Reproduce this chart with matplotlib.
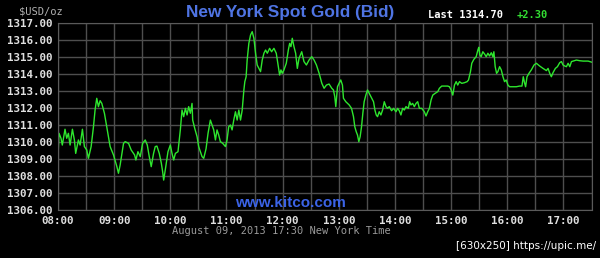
import matplotlib
matplotlib.use("Agg")
import matplotlib.pyplot as plt
import numpy as np

# minutes after 08:00 (New York time) and bid price
minutes = [
    0, 1.1, 3.2, 4.6, 7.5, 9.3, 11.1, 12.9, 15.4, 17.5, 18.9, 21.8, 23.6, 26.1, 28.2,
    30.7, 32.5, 35.4, 37.9, 39.6, 41.4, 43.2, 45.0, 46.8, 49.6, 52.1, 55.7, 59.3,
    62.9, 64.6, 66.4, 70.0, 71.8, 75.4, 78.2, 81.8, 83.2, 85.4, 87.9, 90.4, 93.2,
    95.4, 97.5, 99.6, 102.1, 103.9, 105.7, 108.2, 110.4, 111.8, 112.9, 114.6, 117.5,
    120.0, 121.8, 123.6, 125.4, 128.2, 130.7, 132.5, 134.3, 136.1, 137.9, 139.6,
    141.4, 143.2, 143.9, 146.1, 148.6,
    150.3, 153.9, 155.7, 158.2, 160.3, 162.8, 164.6, 166.4, 168.2, 169.9, 171.7,
    173.5, 176.0, 178.9, 180.6, 182.4, 184.2, 186.0, 187.8, 189.6, 191.4, 193.2,
    195.0, 196.8, 198.6, 199.6, 201.0, 202.1, 203.9, 205.7, 207.5, 209.3, 211.1,
    212.8, 214.6, 216.4, 218.2, 220.0, 221.8, 223.6, 226.1, 228.2, 230.7, 233.2,
    235.4, 236.8, 238.2, 239.6, 241.4, 243.9, 246.1, 247.5, 248.9, 250.3, 252.1,
    253.9, 255.7, 257.5, 260.4, 262.8, 265.4, 268.2, 271.1, 273.6, 276.1, 279.0,
    281.9, 284.3, 286.8, 289.6, 292.5,
    294.3, 295.7, 296.8, 298.6, 300.4, 302.1, 303.9, 305.0, 307.5, 311.1, 313.6,
    315.7, 317.1, 318.6, 320.0, 321.4, 322.8, 324.3, 325.7, 327.1, 328.9, 330.7,
    332.5, 334.3, 337.1, 338.6, 340.0, 341.4, 343.2, 345.0, 346.8, 348.6, 350.4,
    352.1, 353.9, 356.4, 358.6, 361.1, 362.9, 364.6, 366.4, 368.2, 370.0, 371.8,
    374.3, 375.7, 377.1, 378.9, 380.7, 382.5, 384.3, 386.1, 388.6, 391.4, 393.2,
    395.0, 396.8, 398.6, 400.4, 402.9, 405.7, 407.5, 410.0, 412.9, 416.4, 418.2,
    420.0, 421.8, 423.6, 425.4, 427.1, 428.9, 431.4, 434.3, 437.1, 438.6,
    440.7, 442.1, 444.3, 446.8, 448.6, 449.6, 450.7, 452.1, 453.9, 455.7, 457.5,
    459.3, 461.1, 462.9, 464.6, 465.7, 467.1, 468.6, 470.0, 471.8, 473.6, 475.4,
    477.1, 478.9, 480.7, 482.5, 486.1, 489.6, 493.2, 495.7, 497.1, 498.6, 499.6,
    501.1, 503.2, 505.7, 508.6, 511.1, 514.6, 518.2, 521.8, 523.6, 525.4, 527.1,
    528.9, 531.4, 533.6, 536.1, 537.9, 539.6, 541.4, 543.2, 545.0, 546.8, 548.6,
    551.4, 553.9, 557.5, 561.1, 566.4, 570.0,
]
prices = [
    1309.14, 1310.51, 1310.22, 1309.82, 1310.75, 1310.22, 1310.51, 1309.82, 1310.75,
    1310.12, 1309.33, 1310.12, 1309.82, 1310.75, 1309.73, 1309.53, 1309.04, 1309.73,
    1310.90, 1311.88, 1312.57, 1312.08, 1312.43, 1312.27, 1311.69, 1310.90, 1309.73,
    1309.24, 1308.55, 1308.16, 1308.65, 1309.92, 1310.02, 1309.92, 1309.53, 1309.24,
    1308.94, 1309.43, 1309.14, 1309.92, 1310.12, 1309.82, 1309.14, 1308.55, 1309.33,
    1309.73, 1309.76, 1309.33, 1308.75, 1308.25, 1307.76, 1308.35, 1309.43, 1309.82,
    1309.33, 1308.94, 1309.33, 1309.43, 1310.71, 1311.88, 1311.49, 1311.98, 1311.59,
    1312.08, 1311.69, 1312.27, 1311.29, 1310.80, 1310.31,
    1309.73, 1309.14, 1309.04, 1309.61, 1310.51, 1311.29, 1311.00, 1310.71, 1310.12,
    1310.71, 1310.41, 1310.02, 1309.92, 1309.73, 1310.12, 1310.90, 1311.00, 1310.71,
    1311.29, 1311.78, 1311.29, 1311.88, 1311.29, 1311.88, 1313.06, 1313.55, 1313.84,
    1314.82, 1315.80, 1316.29, 1316.49, 1316.10, 1315.22, 1314.53, 1314.33, 1314.14,
    1314.82, 1315.22, 1315.41, 1315.22, 1315.51, 1315.31, 1315.51, 1315.22, 1314.43,
    1313.94, 1314.24, 1314.04, 1314.24, 1314.63, 1315.41, 1315.80, 1315.61, 1316.10,
    1315.61, 1315.22, 1314.33, 1314.92, 1315.31, 1314.73, 1314.53, 1314.82, 1315.02,
    1314.82, 1314.53, 1314.04, 1313.45, 1313.16, 1313.35, 1313.41, 1313.16,
    1313.06, 1312.67, 1312.08, 1313.25, 1313.45, 1313.65, 1313.35, 1312.57, 1312.37,
    1312.18, 1311.98, 1311.49, 1310.90, 1310.61, 1310.41, 1310.02, 1310.31, 1310.90,
    1311.69, 1312.37, 1312.76, 1313.06, 1312.86, 1312.67, 1312.37, 1311.88, 1311.59,
    1311.49, 1311.78, 1311.59, 1311.88, 1312.37, 1312.08, 1311.98, 1312.08, 1311.84,
    1311.98, 1311.78, 1311.98, 1311.84, 1311.59, 1311.98, 1311.88, 1312.08, 1311.98,
    1312.37, 1312.18, 1312.27, 1312.08, 1312.27, 1312.37, 1311.98, 1311.98, 1311.78,
    1311.53, 1311.78, 1311.98, 1312.47, 1312.76, 1312.86, 1312.96, 1313.16, 1313.29,
    1313.29, 1313.29, 1313.25, 1313.06, 1312.76, 1313.35, 1313.55, 1313.35, 1313.55,
    1313.45, 1313.49, 1313.55, 1313.65,
    1314.14, 1314.63, 1314.86, 1315.02, 1315.41, 1315.57, 1315.12, 1315.02, 1315.31,
    1315.18, 1315.02, 1315.22, 1315.06, 1315.25, 1315.02, 1315.31, 1314.43, 1314.04,
    1314.14, 1314.43, 1314.24, 1313.84, 1313.55, 1313.65, 1313.35, 1313.25, 1313.25,
    1313.25, 1313.29, 1313.29, 1313.84, 1313.45, 1313.25, 1313.84, 1314.04, 1314.24,
    1314.53, 1314.63, 1314.47, 1314.33, 1314.20, 1314.33, 1314.04, 1313.84, 1314.08,
    1314.33, 1314.43, 1314.67, 1314.73, 1314.53, 1314.47, 1314.43, 1314.63, 1314.43,
    1314.73, 1314.78, 1314.82, 1314.78, 1314.76, 1314.76, 1314.70,
]

hour_ticks = [8, 9, 10, 11, 12, 13, 14, 15, 16, 17]
hour_labels = ["%02d:00" % h for h in hour_ticks]
price_ticks = list(range(1306, 1318))

title = "New York Spot Gold (Bid)"
last_price = "1314.70"
change = "+2.30"

W, H = 600, 258
fig = plt.figure(figsize=(W / 100, H / 100), dpi=100, facecolor="black")
ax = fig.add_axes([58 / W, 1 - 210 / H, 533.5 / W, 187 / H])  # [left, bottom, width, height]
ax.set_facecolor("black")

x = 8 + np.array(minutes) / 60.0
ax.plot(x, prices, color="#2ee62e", lw=1.0)

ax.set_xlim(8, 17.5)
ax.set_ylim(1306, 1317)
ax.set_xticks(hour_ticks)
ax.set_xticklabels(hour_labels)
ax.set_xticks(np.arange(8.5, 17.6, 1.0), minor=True)
ax.set_yticks(price_ticks)
ax.set_yticklabels(["%.2f" % p for p in price_ticks])
ax.grid(True, which="both", color="#4e4e4e", lw=1.0)
ax.set_axisbelow(True)
ax.tick_params(which="both", length=0, colors="#e0e0e0", labelsize=7.8, pad=4)
for lab in ax.get_xticklabels() + ax.get_yticklabels():
    lab.set_family("DejaVu Sans Mono")
    lab.set_weight("bold")
for s in ax.spines.values():
    s.set_color("#5a5a5a")

mono = "DejaVu Sans Mono"
fig.text(19 / W, 1 - 11 / H, "$USD/oz", color="#b0b0b0", fontsize=7.5,
         family=mono, va="center", ha="left")
fig.text(290 / W, 1 - 12 / H, title, color="#4f74e3", fontsize=12.4,
         family="Liberation Sans", weight="bold", va="center", ha="center")
fig.text(428 / W, 1 - 15 / H, "Last " + last_price, color="white", fontsize=7.5,
         family=mono, weight="bold", va="center", ha="left")
fig.text(517 / W, 1 - 15 / H, change, color="#33dd33", fontsize=7.5,
         family=mono, weight="bold", va="center", ha="left")
fig.text(290 / W, 1 - 203 / H, "www.kitco.com", color="#3b63e6", fontsize=11,
         family="Liberation Sans", weight="bold", va="center", ha="center")
fig.text(281 / W, 1 - 231 / H, "August 09, 2013 17:30 New York Time",
         color="#9a9a9a", fontsize=7.5, family=mono, va="center", ha="center")
fig.text(596 / W, 1 - 246 / H, "[630x250] https://upic.me/", color="white",
         fontsize=7.5, family="DejaVu Sans", va="center", ha="right")

fig.savefig("out.png", dpi=100, facecolor="black")
